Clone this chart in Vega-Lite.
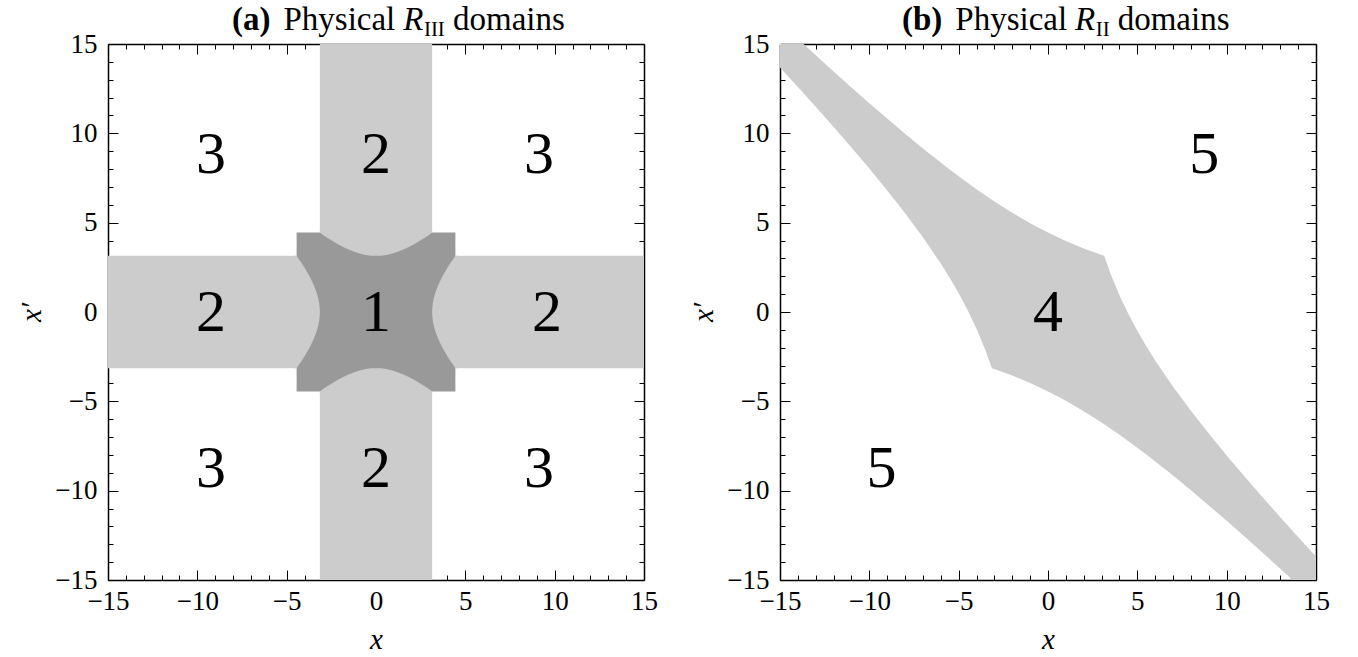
{
  "$schema": "https://vega.github.io/schema/vega-lite/v6.json",
  "background": "white",
  "padding": {"left": 17, "top": 4, "right": 5, "bottom": 5},
  "bounds": "flush",
  "spacing": 136,
  "config": {
    "view": {"stroke": null},
    "font": "Liberation Serif, Times New Roman, serif",
    "axis": {
      "grid": false,
      "domain": false,
      "tickColor": "black",
      "tickWidth": 1,
      "labelFont": "Liberation Serif, Times New Roman, serif",
      "labelFontSize": 27,
      "labelColor": "black",
      "labelFlush": false,
      "labelOverlap": false,
      "titleFont": "Liberation Serif, Times New Roman, serif",
      "titleFontSize": 29,
      "titleFontWeight": "normal",
      "titleFontStyle": "italic",
      "titleColor": "black",
      "zindex": 1
    },
    "text": {"font": "Liberation Serif, Times New Roman, serif", "color": "black"}
  },
  "hconcat": [
    {
      "width": 536,
      "height": 536,
      "resolve": {"axis": {"x": "independent", "y": "independent"}},
      "layer": [
        {
          "data": {"values": [
            {"x0": -3.1416, "x1": 3.1416, "y0": -15, "y1": 15},
            {"x0": -15, "x1": 15, "y0": -3.1416, "y1": 3.1416}
          ]},
          "mark": {"type": "rect", "color": "#cccccc"},
          "encoding": {
            "x": {"field": "x0", "type": "quantitative", "scale": {"domain": [-15, 15], "nice": false, "zero": false},
                  "axis": {"orient": "bottom", "values": [-15, -10, -5, 0, 5, 10, 15], "tickSize": -10, "labelPadding": 18, "title": "x", "titlePadding": 11, "domain": true, "domainColor": "black", "domainWidth": 1.5}},
            "x2": {"field": "x1"},
            "y": {"field": "y0", "type": "quantitative", "scale": {"domain": [-15, 15], "nice": false, "zero": false},
                  "axis": {"orient": "left", "values": [-15, -10, -5, 0, 5, 10, 15], "tickSize": -10, "labelPadding": 21, "title": "x′", "titlePadding": 8, "domain": true, "domainColor": "black", "domainWidth": 1.5}},
            "y2": {"field": "y1"}
          }
        },
        {
          "data": {"values": [{"x0": -4.4429, "x1": 4.4429, "y0": -4.4429, "y1": 4.4429}]},
          "mark": {"type": "rect", "color": "#999999"},
          "encoding": {
            "x": {"field": "x0", "type": "quantitative", "scale": {"domain": [-15, 15], "nice": false, "zero": false},
                  "axis": {"orient": "top", "values": [-15, -10, -5, 0, 5, 10, 15], "tickSize": -10, "labels": false, "title": null, "domain": true, "domainColor": "black", "domainWidth": 1.5}},
            "x2": {"field": "x1"},
            "y": {"field": "y0", "type": "quantitative", "scale": {"domain": [-15, 15], "nice": false, "zero": false},
                  "axis": {"orient": "right", "values": [-15, -10, -5, 0, 5, 10, 15], "tickSize": -10, "labels": false, "title": null, "domain": true, "domainColor": "black", "domainWidth": 1.5}},
            "y2": {"field": "y1"}
          }
        },
        {
          "data": {"name": "hyperbola"},
          "mark": {"type": "area", "color": "#cccccc", "orient": "vertical"},
          "encoding": {
            "x": {"field": "t", "type": "quantitative", "scale": {"domain": [-15, 15], "nice": false, "zero": false},
                  "axis": {"orient": "bottom", "values": [-14, -13, -12, -11, -9, -8, -7, -6, -4, -3, -2, -1, 1, 2, 3, 4, 6, 7, 8, 9, 11, 12, 13, 14], "tickSize": -5, "labels": false, "title": null}},
            "y": {"field": "c", "type": "quantitative", "scale": {"domain": [-15, 15], "nice": false, "zero": false},
                  "axis": {"orient": "left", "values": [-14, -13, -12, -11, -9, -8, -7, -6, -4, -3, -2, -1, 1, 2, 3, 4, 6, 7, 8, 9, 11, 12, 13, 14], "tickSize": -5, "labels": false, "title": null}},
            "y2": {"datum": 4.6}
          }
        },
        {
          "data": {"name": "hyperbola"},
          "mark": {"type": "area", "color": "#cccccc", "orient": "vertical"},
          "encoding": {
            "x": {"field": "t", "type": "quantitative", "scale": {"domain": [-15, 15], "nice": false, "zero": false},
                  "axis": {"orient": "top", "values": [-14, -13, -12, -11, -9, -8, -7, -6, -4, -3, -2, -1, 1, 2, 3, 4, 6, 7, 8, 9, 11, 12, 13, 14], "tickSize": -5, "labels": false, "title": null}},
            "y": {"field": "cn", "type": "quantitative", "scale": {"domain": [-15, 15], "nice": false, "zero": false},
                  "axis": {"orient": "right", "values": [-14, -13, -12, -11, -9, -8, -7, -6, -4, -3, -2, -1, 1, 2, 3, 4, 6, 7, 8, 9, 11, 12, 13, 14], "tickSize": -5, "labels": false, "title": null}},
            "y2": {"datum": -4.6}
          }
        },
        {
          "data": {"name": "hyperbola"},
          "mark": {"type": "area", "color": "#cccccc", "orient": "horizontal"},
          "encoding": {
            "y": {"field": "t", "type": "quantitative", "scale": {"domain": [-15, 15], "nice": false, "zero": false}, "axis": null},
            "x": {"field": "c", "type": "quantitative", "scale": {"domain": [-15, 15], "nice": false, "zero": false}, "axis": null},
            "x2": {"datum": 4.6}
          }
        },
        {
          "data": {"name": "hyperbola"},
          "mark": {"type": "area", "color": "#cccccc", "orient": "horizontal"},
          "encoding": {
            "y": {"field": "t", "type": "quantitative", "scale": {"domain": [-15, 15], "nice": false, "zero": false}, "axis": null},
            "x": {"field": "cn", "type": "quantitative", "scale": {"domain": [-15, 15], "nice": false, "zero": false}, "axis": null},
            "x2": {"datum": -4.6}
          }
        },
        {
          "data": {"values": [
            {"x": -9.23, "y": 7.8, "label": "3"},
            {"x": 0, "y": 7.8, "label": "2"},
            {"x": 9.12, "y": 7.8, "label": "3"},
            {"x": -9.23, "y": -1.04, "label": "2"},
            {"x": 0, "y": -1.04, "label": "1"},
            {"x": 9.57, "y": -1.04, "label": "2"},
            {"x": -9.23, "y": -9.8, "label": "3"},
            {"x": 0, "y": -9.8, "label": "2"},
            {"x": 9.12, "y": -9.8, "label": "3"}
          ]},
          "mark": {"type": "text", "fontSize": 60, "color": "black", "align": "center", "baseline": "alphabetic"},
          "encoding": {
            "x": {"field": "x", "type": "quantitative", "scale": {"domain": [-15, 15], "nice": false, "zero": false}, "axis": null},
            "y": {"field": "y", "type": "quantitative", "scale": {"domain": [-15, 15], "nice": false, "zero": false}, "axis": null},
            "text": {"field": "label"}
          }
        },
        {
          "data": {"values": [{}]},
          "mark": {"type": "text", "text": "(a)", "fontSize": 33, "fontWeight": "bold", "color": "black", "align": "left", "baseline": "alphabetic"},
          "encoding": {
            "x": {"datum": -8.06, "type": "quantitative", "scale": {"domain": [-15, 15], "nice": false, "zero": false}, "axis": null},
            "y": {"datum": 15.76, "type": "quantitative", "scale": {"domain": [-15, 15], "nice": false, "zero": false}, "axis": null}
          }
        },
        {
          "data": {"values": [{}]},
          "mark": {"type": "text", "text": "Physical", "fontSize": 33, "color": "black", "align": "left", "baseline": "alphabetic"},
          "encoding": {
            "x": {"datum": -5.18, "type": "quantitative", "scale": {"domain": [-15, 15], "nice": false, "zero": false}, "axis": null},
            "y": {"datum": 15.76, "type": "quantitative", "scale": {"domain": [-15, 15], "nice": false, "zero": false}, "axis": null}
          }
        },
        {
          "data": {"values": [{}]},
          "mark": {"type": "text", "text": "R", "fontSize": 33, "fontStyle": "italic", "color": "black", "align": "left", "baseline": "alphabetic"},
          "encoding": {
            "x": {"datum": 1.53, "type": "quantitative", "scale": {"domain": [-15, 15], "nice": false, "zero": false}, "axis": null},
            "y": {"datum": 15.76, "type": "quantitative", "scale": {"domain": [-15, 15], "nice": false, "zero": false}, "axis": null}
          }
        },
        {
          "data": {"values": [{}]},
          "mark": {"type": "text", "text": "III", "fontSize": 21, "color": "black", "align": "left", "baseline": "alphabetic"},
          "encoding": {
            "x": {"datum": 2.68, "type": "quantitative", "scale": {"domain": [-15, 15], "nice": false, "zero": false}, "axis": null},
            "y": {"datum": 15.42, "type": "quantitative", "scale": {"domain": [-15, 15], "nice": false, "zero": false}, "axis": null}
          }
        },
        {
          "data": {"values": [{}]},
          "mark": {"type": "text", "text": "domains", "fontSize": 33, "color": "black", "align": "left", "baseline": "alphabetic"},
          "encoding": {
            "x": {"datum": 4.31, "type": "quantitative", "scale": {"domain": [-15, 15], "nice": false, "zero": false}, "axis": null},
            "y": {"datum": 15.76, "type": "quantitative", "scale": {"domain": [-15, 15], "nice": false, "zero": false}, "axis": null}
          }
        }
      ]
    },
    {
      "width": 536,
      "height": 536,
      "resolve": {"axis": {"x": "independent", "y": "independent"}},
      "layer": [
        {
          "data": {"values": [
            {"x": -15, "upper": 16.2172, "lower": 13.6841},
            {"x": -14, "upper": 15.2909, "lower": 12.5901},
            {"x": -13, "upper": 14.3733, "lower": 11.4816},
            {"x": -12, "upper": 13.4659, "lower": 10.3551},
            {"x": -11, "upper": 12.5703, "lower": 9.2055},
            {"x": -10, "upper": 11.6888, "lower": 8.0261},
            {"x": -9, "upper": 10.8237, "lower": 6.8068},
            {"x": -8, "upper": 9.9783, "lower": 5.5326},
            {"x": -7, "upper": 9.1559, "lower": 4.1801},
            {"x": -6, "upper": 8.3609, "lower": 2.7101},
            {"x": -5.5, "upper": 7.9751, "lower": 1.911},
            {"x": -5, "upper": 7.598, "lower": 1.0522},
            {"x": -4.5, "upper": 7.2302, "lower": 0.1135},
            {"x": -4, "upper": 6.8723, "lower": -0.9348},
            {"x": -3.5, "upper": 6.5251, "lower": -2.1398},
            {"x": -3.1416, "upper": 6.2832, "lower": -3.1416},
            {"x": -3, "upper": 6.1893, "lower": -3.1893},
            {"x": -2, "upper": 5.5541, "lower": -3.5541},
            {"x": -1, "upper": 4.971, "lower": -3.971},
            {"x": 0, "upper": 4.4429, "lower": -4.4429},
            {"x": 1, "upper": 3.971, "lower": -4.971},
            {"x": 2, "upper": 3.5541, "lower": -5.5541},
            {"x": 3, "upper": 3.1893, "lower": -6.1893},
            {"x": 3.1416, "upper": 3.1416, "lower": -6.2832},
            {"x": 3.5, "upper": 2.1398, "lower": -6.5251},
            {"x": 4, "upper": 0.9348, "lower": -6.8723},
            {"x": 4.5, "upper": -0.1135, "lower": -7.2302},
            {"x": 5, "upper": -1.0522, "lower": -7.598},
            {"x": 5.5, "upper": -1.911, "lower": -7.9751},
            {"x": 6, "upper": -2.7101, "lower": -8.3609},
            {"x": 7, "upper": -4.1801, "lower": -9.1559},
            {"x": 8, "upper": -5.5326, "lower": -9.9783},
            {"x": 9, "upper": -6.8068, "lower": -10.8237},
            {"x": 10, "upper": -8.0261, "lower": -11.6888},
            {"x": 11, "upper": -9.2055, "lower": -12.5703},
            {"x": 12, "upper": -10.3551, "lower": -13.4659},
            {"x": 13, "upper": -11.4816, "lower": -14.3733},
            {"x": 14, "upper": -12.5901, "lower": -15.2909},
            {"x": 15, "upper": -13.6841, "lower": -16.2172}
          ]},
          "mark": {"type": "area", "color": "#cccccc", "clip": true},
          "encoding": {
            "x": {"field": "x", "type": "quantitative", "scale": {"domain": [-15, 15], "nice": false, "zero": false},
                  "axis": {"orient": "bottom", "values": [-15, -10, -5, 0, 5, 10, 15], "tickSize": -10, "labelPadding": 18, "title": "x", "titlePadding": 11, "domain": true, "domainColor": "black", "domainWidth": 1.5}},
            "y": {"field": "upper", "type": "quantitative", "scale": {"domain": [-15, 15], "nice": false, "zero": false},
                  "axis": {"orient": "left", "values": [-15, -10, -5, 0, 5, 10, 15], "tickSize": -10, "labelPadding": 21, "title": "x′", "titlePadding": 8, "domain": true, "domainColor": "black", "domainWidth": 1.5}},
            "y2": {"field": "lower"}
          }
        },
        {
          "data": {"values": [
            {"x": 8.75, "y": 7.8, "label": "5"},
            {"x": 0, "y": -1.04, "label": "4"},
            {"x": -9.32, "y": -9.8, "label": "5"}
          ]},
          "mark": {"type": "text", "fontSize": 60, "color": "black", "align": "center", "baseline": "alphabetic"},
          "encoding": {
            "x": {"field": "x", "type": "quantitative", "scale": {"domain": [-15, 15], "nice": false, "zero": false},
                  "axis": {"orient": "top", "values": [-15, -10, -5, 0, 5, 10, 15], "tickSize": -10, "labels": false, "title": null, "domain": true, "domainColor": "black", "domainWidth": 1.5}},
            "y": {"field": "y", "type": "quantitative", "scale": {"domain": [-15, 15], "nice": false, "zero": false},
                  "axis": {"orient": "right", "values": [-15, -10, -5, 0, 5, 10, 15], "tickSize": -10, "labels": false, "title": null, "domain": true, "domainColor": "black", "domainWidth": 1.5}},
            "text": {"field": "label"}
          }
        },
        {
          "data": {"values": [{}]},
          "mark": {"type": "text", "text": "(b)", "fontSize": 33, "fontWeight": "bold", "color": "black", "align": "left", "baseline": "alphabetic"},
          "encoding": {
            "x": {"datum": -8.17, "type": "quantitative", "scale": {"domain": [-15, 15], "nice": false, "zero": false},
                  "axis": {"orient": "bottom", "values": [-14, -13, -12, -11, -9, -8, -7, -6, -4, -3, -2, -1, 1, 2, 3, 4, 6, 7, 8, 9, 11, 12, 13, 14], "tickSize": -5, "labels": false, "title": null}},
            "y": {"datum": 15.76, "type": "quantitative", "scale": {"domain": [-15, 15], "nice": false, "zero": false},
                  "axis": {"orient": "left", "values": [-14, -13, -12, -11, -9, -8, -7, -6, -4, -3, -2, -1, 1, 2, 3, 4, 6, 7, 8, 9, 11, 12, 13, 14], "tickSize": -5, "labels": false, "title": null}}
          }
        },
        {
          "data": {"values": [{}]},
          "mark": {"type": "text", "text": "Physical", "fontSize": 33, "color": "black", "align": "left", "baseline": "alphabetic"},
          "encoding": {
            "x": {"datum": -5.19, "type": "quantitative", "scale": {"domain": [-15, 15], "nice": false, "zero": false},
                  "axis": {"orient": "top", "values": [-14, -13, -12, -11, -9, -8, -7, -6, -4, -3, -2, -1, 1, 2, 3, 4, 6, 7, 8, 9, 11, 12, 13, 14], "tickSize": -5, "labels": false, "title": null}},
            "y": {"datum": 15.76, "type": "quantitative", "scale": {"domain": [-15, 15], "nice": false, "zero": false},
                  "axis": {"orient": "right", "values": [-14, -13, -12, -11, -9, -8, -7, -6, -4, -3, -2, -1, 1, 2, 3, 4, 6, 7, 8, 9, 11, 12, 13, 14], "tickSize": -5, "labels": false, "title": null}}
          }
        },
        {
          "data": {"values": [{}]},
          "mark": {"type": "text", "text": "R", "fontSize": 33, "fontStyle": "italic", "color": "black", "align": "left", "baseline": "alphabetic"},
          "encoding": {
            "x": {"datum": 1.51, "type": "quantitative", "scale": {"domain": [-15, 15], "nice": false, "zero": false}, "axis": null},
            "y": {"datum": 15.76, "type": "quantitative", "scale": {"domain": [-15, 15], "nice": false, "zero": false}, "axis": null}
          }
        },
        {
          "data": {"values": [{}]},
          "mark": {"type": "text", "text": "II", "fontSize": 21, "color": "black", "align": "left", "baseline": "alphabetic"},
          "encoding": {
            "x": {"datum": 2.67, "type": "quantitative", "scale": {"domain": [-15, 15], "nice": false, "zero": false}, "axis": null},
            "y": {"datum": 15.42, "type": "quantitative", "scale": {"domain": [-15, 15], "nice": false, "zero": false}, "axis": null}
          }
        },
        {
          "data": {"values": [{}]},
          "mark": {"type": "text", "text": "domains", "fontSize": 33, "color": "black", "align": "left", "baseline": "alphabetic"},
          "encoding": {
            "x": {"datum": 3.9, "type": "quantitative", "scale": {"domain": [-15, 15], "nice": false, "zero": false}, "axis": null},
            "y": {"datum": 15.76, "type": "quantitative", "scale": {"domain": [-15, 15], "nice": false, "zero": false}, "axis": null}
          }
        }
      ]
    }
  ],
  "datasets": {
    "hyperbola": [
      {"t": -3.1416, "c": 4.4429, "cn": -4.4429},
      {"t": -3, "c": 4.3439, "cn": -4.3439},
      {"t": -2.75, "c": 4.1752, "cn": -4.1752},
      {"t": -2.5, "c": 4.0149, "cn": -4.0149},
      {"t": -2.25, "c": 3.8642, "cn": -3.8642},
      {"t": -2, "c": 3.7242, "cn": -3.7242},
      {"t": -1.75, "c": 3.5961, "cn": -3.5961},
      {"t": -1.5, "c": 3.4813, "cn": -3.4813},
      {"t": -1.25, "c": 3.3811, "cn": -3.3811},
      {"t": -1, "c": 3.2969, "cn": -3.2969},
      {"t": -0.75, "c": 3.2299, "cn": -3.2299},
      {"t": -0.5, "c": 3.1811, "cn": -3.1811},
      {"t": -0.25, "c": 3.1515, "cn": -3.1515},
      {"t": 0, "c": 3.1416, "cn": -3.1416},
      {"t": 0.25, "c": 3.1515, "cn": -3.1515},
      {"t": 0.5, "c": 3.1811, "cn": -3.1811},
      {"t": 0.75, "c": 3.2299, "cn": -3.2299},
      {"t": 1, "c": 3.2969, "cn": -3.2969},
      {"t": 1.25, "c": 3.3811, "cn": -3.3811},
      {"t": 1.5, "c": 3.4813, "cn": -3.4813},
      {"t": 1.75, "c": 3.5961, "cn": -3.5961},
      {"t": 2, "c": 3.7242, "cn": -3.7242},
      {"t": 2.25, "c": 3.8642, "cn": -3.8642},
      {"t": 2.5, "c": 4.0149, "cn": -4.0149},
      {"t": 2.75, "c": 4.1752, "cn": -4.1752},
      {"t": 3, "c": 4.3439, "cn": -4.3439},
      {"t": 3.1416, "c": 4.4429, "cn": -4.4429}
    ]
  }
}
